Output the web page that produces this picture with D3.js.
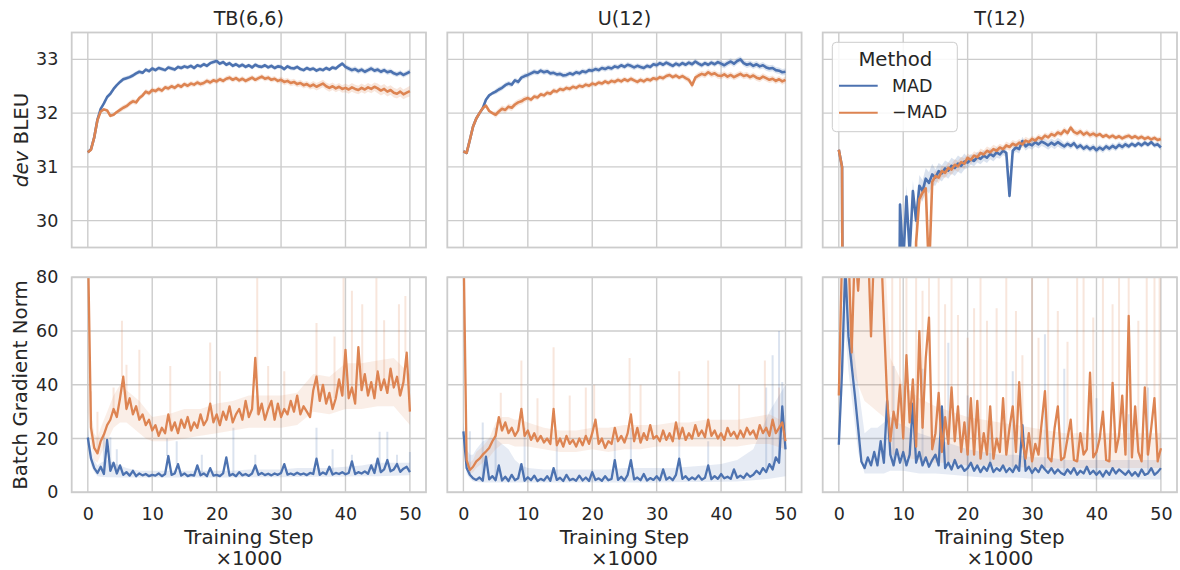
<!DOCTYPE html>
<html>
<head>
<meta charset="utf-8">
<script src="https://cdn.jsdelivr.net/npm/d3@7"></script>
<style>
body { margin: 0; background: #fff; }
text { font-family: "DejaVu Sans", sans-serif; fill: #262626; }
</style>
</head>
<body>
<script>
// training step (x1000), one value every 0.5k steps
const steps = d3.range(0, 50.001, 0.5);
const stepTicks = [0, 10, 20, 30, 40, 50];
const bleuTicks = [30, 31, 32, 33];
const gnormTicks = [0, 20, 40, 60, 80];
const titles = ['TB(6,6)', 'U(12)', 'T(12)'];

// ---- dev BLEU ----
const tbBleuMad = [31.27,31.33,31.55,31.88,32.08,32.18,32.30,32.36,32.45,32.52,
  32.58,32.63,32.65,32.67,32.70,32.74,32.77,32.75,32.81,32.78,
  32.83,32.80,32.84,32.82,32.80,32.85,32.83,32.81,32.86,32.84,
  32.87,32.85,32.88,32.84,32.89,32.87,32.91,32.88,32.93,32.95,
  32.97,32.92,32.95,32.90,32.93,32.88,32.91,32.87,32.90,32.86,
  32.89,32.85,32.90,32.87,32.86,32.89,32.85,32.88,32.84,32.87,
  32.86,32.82,32.87,32.84,32.83,32.86,32.82,32.80,32.84,32.81,
  32.83,32.79,32.82,32.80,32.84,32.81,32.85,32.83,32.88,32.92,
  32.86,32.83,32.80,32.82,32.78,32.81,32.77,32.80,32.83,32.79,
  32.81,32.77,32.80,32.76,32.78,32.74,32.72,32.75,32.71,32.74,
  32.77];
const tbBleuNeg = [31.27,31.32,31.55,31.87,32.03,32.07,32.05,31.95,31.97,32.02,
  32.06,32.10,32.13,32.18,32.22,32.20,32.28,32.33,32.40,32.37,
  32.43,32.41,32.45,32.42,32.48,32.46,32.50,32.47,32.52,32.49,
  32.54,32.51,32.55,32.53,32.57,32.54,32.56,32.60,32.57,32.61,
  32.59,32.63,32.60,32.64,32.66,32.62,32.65,32.61,32.64,32.60,
  32.63,32.66,32.62,32.65,32.68,32.64,32.66,32.62,32.64,32.60,
  32.62,32.58,32.60,32.56,32.58,32.54,32.56,32.52,32.54,32.50,
  32.53,32.49,32.52,32.55,32.50,32.47,32.50,32.46,32.49,32.45,
  32.47,32.44,32.48,32.45,32.43,32.47,32.44,32.48,32.45,32.49,
  32.46,32.42,32.45,32.40,32.43,32.38,32.36,32.40,32.35,32.38,
  32.41];
const uBleuMad = [31.29,31.26,31.50,31.75,31.90,32.00,32.09,32.25,32.33,32.37,
  32.40,32.44,32.47,32.52,32.55,32.53,32.61,32.58,32.66,32.69,
  32.71,32.74,32.77,32.75,32.79,32.76,32.78,32.74,32.75,32.72,
  32.73,32.70,32.71,32.74,32.72,32.76,32.74,32.78,32.76,32.80,
  32.79,32.82,32.80,32.84,32.82,32.85,32.83,32.87,32.85,32.89,
  32.86,32.90,32.88,32.85,32.88,32.86,32.84,32.88,32.86,32.91,
  32.89,32.93,32.90,32.94,32.91,32.88,32.92,32.89,32.93,32.90,
  32.94,32.91,32.96,32.92,32.89,32.93,32.90,32.94,32.91,32.95,
  32.92,32.89,32.93,32.96,32.92,32.97,33.00,32.93,32.90,32.92,
  32.88,32.91,32.87,32.89,32.85,32.83,32.84,32.80,32.79,32.76,
  32.77];
const uBleuNeg = [31.29,31.26,31.50,31.75,31.90,32.00,32.09,32.14,32.04,32.00,
  31.97,32.03,32.08,32.06,32.12,32.10,32.16,32.20,32.22,32.26,
  32.28,32.25,32.31,32.29,32.35,32.33,32.38,32.36,32.42,32.40,
  32.45,32.43,32.47,32.45,32.49,32.47,32.51,32.49,32.53,32.51,
  32.55,32.53,32.57,32.55,32.59,32.56,32.60,32.58,32.62,32.59,
  32.63,32.60,32.64,32.61,32.58,32.62,32.59,32.63,32.61,32.65,
  32.63,32.67,32.65,32.69,32.71,32.67,32.70,32.66,32.69,32.65,
  32.62,32.52,32.66,32.70,32.73,32.71,32.76,32.72,32.74,32.70,
  32.69,32.72,32.68,32.71,32.67,32.70,32.73,32.69,32.71,32.67,
  32.70,32.66,32.64,32.68,32.65,32.62,32.64,32.60,32.63,32.59,
  32.62];
const tBleuMad = [31.32,31.00,15,15,15,15,15,15,15,15,
  15,15,15,15,15,15,15,15,22,30.30,
  29.20,30.45,29.40,30.55,30.00,30.65,30.55,30.78,30.70,30.86,
  30.80,30.92,30.88,30.97,30.93,31.02,30.98,31.06,31.02,31.10,
  31.08,31.14,31.11,31.18,31.15,31.21,31.17,31.24,31.20,31.27,
  31.23,31.30,31.26,30.46,31.30,31.36,31.33,31.48,31.38,31.43,
  31.40,31.46,31.42,31.47,31.44,31.40,31.45,31.41,31.46,31.42,
  31.38,31.43,31.39,31.44,31.36,31.40,31.34,31.38,31.33,31.37,
  31.31,31.36,31.32,31.38,31.34,31.39,31.35,31.41,31.37,31.42,
  31.38,31.43,31.39,31.44,31.40,31.45,31.41,31.46,31.40,31.42,
  31.36];
const tBleuNeg = [31.32,31.00,15,15,15,15,15,15,15,15,
  15,15,15,15,15,15,15,15,15,15,
  15,15,15,22,29.60,30.40,30.52,30.60,29.00,30.72,
  30.83,30.80,30.92,30.89,30.98,30.95,31.04,31.01,31.09,31.06,
  31.17,31.13,31.21,31.18,31.26,31.23,31.30,31.27,31.33,31.30,
  31.36,31.33,31.40,31.37,31.43,31.40,31.45,31.42,31.49,31.46,
  31.52,31.49,31.55,31.52,31.58,31.55,31.61,31.58,31.64,31.61,
  31.68,31.63,31.73,31.65,31.62,31.66,31.60,31.64,31.59,31.62,
  31.58,31.61,31.56,31.59,31.55,31.58,31.54,31.57,31.53,31.56,
  31.58,31.54,31.57,31.53,31.56,31.52,31.55,31.51,31.54,31.50,
  31.52];
// spread of the BLEU band, one value per 5k steps
const tbBleuMadSd = [0.02,0.04,0.04,0.04,0.04,0.04,0.04,0.04,0.05,0.05,0.05];
const tbBleuNegSd = [0.03,0.05,0.05,0.05,0.05,0.05,0.06,0.07,0.08,0.09,0.10];
const uBleuMadSd = [0.03,0.05,0.05,0.05,0.05,0.05,0.05,0.05,0.06,0.06,0.06];
const uBleuNegSd = [0.03,0.06,0.05,0.05,0.05,0.05,0.05,0.06,0.06,0.06,0.06];
const tBleuMadSd = [0.02,0.10,0.20,0.15,0.10,0.08,0.08,0.06,0.06,0.05,0.05];
const tBleuNegSd = [0.02,0.10,0.12,0.10,0.08,0.07,0.06,0.06,0.05,0.05,0.05];

// ---- batch gradient norm ----
const tbGnormMad = [20.4,12.5,9.0,7.2,9.5,6.8,19.5,8.0,11.0,7.0,
  10.0,6.5,7.5,6.2,8.0,6.0,7.0,6.3,6.8,6.0,
  6.5,6.2,7.0,6.0,6.8,13.5,6.5,7.0,10.5,6.2,
  7.0,6.0,6.5,6.2,10.0,6.3,7.0,6.0,9.0,6.2,
  6.5,6.0,7.0,13.0,6.2,6.8,6.0,7.5,6.3,6.8,
  6.1,7.0,10.0,6.5,7.2,6.4,6.9,6.3,7.0,6.5,
  7.2,10.5,6.6,7.0,6.5,7.3,6.6,7.0,6.4,7.2,
  6.8,12.5,6.5,7.4,6.7,9.5,6.6,7.2,6.8,7.5,
  6.7,7.2,11.5,6.8,7.5,7.0,7.8,6.9,10.0,7.2,
  12.5,7.5,8.5,12.0,7.8,8.5,10.5,7.6,8.8,9.5,
  7.5];
const tbGnormNeg = [95,24,16.5,14.5,19,21.5,25,27,31,28,
  35,43,31,35,29,32,27,29,25,27,
  23,25,21,24,22,29,23,26,22,27,
  24,28,23,26,24,29,25,27,33,26,
  29,25,30,27,32,26,29,31,27,34,
  28,31,50,29,33,27,31,34,27,33,
  28,31,29,34,30,36,29,32,30,28,
  38,43,34,40,33,37,31,35,42,36,
  53,35,39,33,54,38,44,36,41,35,
  45,38,42,37,46,39,43,36,41,52,
  30];
const uGnormMad = [22.7,9.0,6.5,5.2,4.6,5.5,4.3,13.3,4.8,6.0,
  4.5,10.0,4.4,5.8,4.2,6.5,4.5,5.2,10.5,4.3,
  5.6,4.5,6.2,4.2,5.0,4.4,6.0,4.3,9.0,4.6,
  5.4,4.2,6.5,4.5,5.0,4.3,6.2,4.4,5.5,4.2,
  7.5,4.6,5.2,4.3,6.0,4.5,5.0,12.0,4.6,5.8,
  4.4,6.5,12.0,4.8,5.5,4.5,6.8,4.4,5.3,4.6,
  6.0,4.5,8.5,4.7,5.6,4.5,6.5,12.5,5.0,6.0,
  4.6,5.5,4.8,6.3,4.7,5.4,10.0,4.9,6.0,5.0,
  6.8,5.2,5.8,5.0,8.5,5.4,6.2,5.3,7.0,5.8,
  6.5,8.0,6.8,9.0,7.5,10.5,8.5,13.0,11.0,32.0,
  16.0];
const uGnormNeg = [95,12,8.3,9.5,11.5,12.5,14,15.2,16.5,19,
  21,28,23,26,22,24,21,23,31,21,
  23,19.5,22,19,21,18.5,20,18,31,17.5,
  20,17,21,18,19.5,17,20,17.5,21,18,
  22,27,18,20,16.5,19,18,24,19,21,
  18.5,22,29,19,24,18.5,22,19.5,25,20,
  21,19,23,19.5,22,19,26,20,24,19.5,
  22,20,25,21,23,20.5,27,21,23,20,
  22,19.5,24,21,22.5,20,23,20.5,24,21.5,
  23,20,25,22,24,21,27,22,24,26,
  19];
const tGnormMad = [17.7,45,84,58,47,36,24,11.5,9,13,
  10,15,10,19,11,34,14,10,16,11,
  15,10,14,33,11,15,10,13,9.5,12,
  14,10,32,9,11,8.5,12,9,10,8,
  9,11,8,10,7.5,9.5,8,11,7.5,9,
  8,10,7.5,9,7.5,10,8,25,8,9.5,
  7.2,9,7.5,10,8.5,7.2,9,7,8.5,7.2,
  6.5,8.5,7,9,6.5,8,7,9.5,6.8,8,
  6.5,7.8,5.9,8,6.5,9,7,8.5,7.5,6.5,
  8,6.2,7.5,6,8.5,6.5,7,9,6.5,7.5,
  9];
const tGnormNeg = [36,88,95,90,52,92,75,95,88,95,
  58,92,85,95,64,35,19,30,24,40,
  20,51,26,42,17,60,24,50,65,16,
  22,37,15,28,18,39,19,32,15,26,
  14,35,14,34,12.5,22,14,32,12.5,20,
  15,35,14,24,32,15,41,19,12.5,22,
  11.5,18,14,26,37.6,13,11.5,24,32,12,
  13,20,27,12,11.5,22,14,16,44.5,13,
  15,20,30,12,11.5,40.7,15,21,36,14,
  65.6,13,32,15,11.5,39,14,24,35,11.5,
  16.4];

// band bounds for the gradient norm, read at these steps
const bandSteps = [0,0.5,1,1.5,2,3,4,5,6,7,8,9,10,12.5,15,17.5,20,22.5,25,27.5,30,32.5,35,37.5,40,42.5,45,47.5,50];
const tbGnormMadLo = [18,10,7.5,6,5.8,5.6,5.6,5.5,5.5,5.5,5.5,5.5,5.5,5.5,5.5,5.5,5.5,5.5,5.6,5.6,5.6,5.7,5.8,5.8,5.9,6,6,6.2,6.3];
const tbGnormMadHi = [24,16,12,10,11,12,11,10,9,8.5,8,8,8,8,8,8,8,8,8.5,8.5,8.5,9,9,9,9.5,10,11,11,11];
const tbGnormNegLo = [30,18,12,11,14,19,24,26,26,24,22,20,19,19,20,21,22,23,24,24,24,25,30,29,31,31,32,32,25];
const tbGnormNegHi = [95,30,22,20,24,30,36,40,38,36,34,31,28,29,31,31,33,34,36,36,36,37,44,43,48,48,49,50,44];
const uGnormMadLo = [20,7,5,4,3.8,3.6,3.6,3.6,3.6,3.6,3.6,3.6,3.6,3.6,3.6,3.6,3.6,3.6,3.6,3.6,3.6,3.7,3.8,3.8,3.9,4,4.5,5,6];
const uGnormMadHi = [26,16,14,14,16,19,20,20,18,16,12,10,9,8.5,8.5,8.5,8.5,8.5,9,9,9,9,9.5,10,10.5,12,16,30,40];
const uGnormNegLo = [60,10,7,7.5,9,11,13,16,18,18,17,17,17,16,15,15,16,15,16,16,17,17,17,17,17,17,18,18,16];
const uGnormNegHi = [95,16,11,12,15,17,20,26,28,28,27,27,26,24,23,23,24,24,25,25,25,26,26,27,27,27,28,29,26];
const tGnormMadLo = [14,35,60,45,35,15,7,7,7,7,8,8,8,7,7,6.5,6,5.5,5.5,5.5,5,5,5,5,4.8,4.8,4.8,4.8,4.8];
const tGnormMadHi = [25,60,90,75,60,40,22,24,24,26,28,26,25,22,20,18,16,15,14,14,13,13,12,12,12,12,12,12,12];
const tGnormNegLo = [30,70,75,70,45,40,34,32,30,28,14,14,13,12,11,11,10,10,9.5,9.5,9,9,9,9,9,9,9,9,9];
const tGnormNegHi = [45,95,95,95,95,95,95,95,95,95,50,45,40,35,32,30,28,27,26,25,24,23,22,22,22,22,22,22,22];

// faint single-run peaks inside the band: [step, top]
const tbGnormMadPeaks = [[2.5,21],[3.5,20.5],[4.5,16],[12.3,20],[13.8,19],[17.7,14],[22.6,24],[26,14],[35.5,24],[38,16],[41,14],[45.3,22.5],[46.5,22.5],[48,14],[50,15]];
const tbGnormNegPeaks = [[0.5,37.6],[1.5,30],[4,39],[5.3,63.8],[6,47.5],[8,53],[12.8,47],[19,55.7],[20.5,45],[26.3,85],[28,47],[30.5,45],[35.5,63],[38.3,58],[39.7,85],[41,75],[42.6,70],[44.8,85],[46,64],[48.3,70],[49.3,73]];
const uGnormMadPeaks = [[1,22.7],[3,26],[5,24],[9.5,24],[14.5,19],[23.5,20],[26,24],[33.5,24],[38,19],[47,39],[48,51],[49,60],[49.5,41]];
const uGnormNegPeaks = [[5.8,37],[9,49],[11.5,35],[14,54],[16.5,36],[19,39],[20.3,40],[25.8,50],[27.5,40],[33.5,45],[38,49],[42.8,40],[46.8,49],[49,39]];
const tGnormMadPeaks = [[2,66],[8.5,47],[13,46],[17,55.6],[20,36],[23.5,31],[27,45],[32,58.8],[35,46],[40,35],[45,29],[48,39]];
const tGnormNegPeaks = [[8.3,85],[9.5,85],[10.5,85],[12,85],[13,75],[14,85],[15.5,85],[16.5,70],[17.5,85],[18.5,66],[20,57.5],[21,68.5],[22,85],[23,63.8],[24.5,68.5],[26,85],[27.5,67.5],[28.5,51],[30,85],[31,57.5],[32.5,85],[34,67.5],[35.5,56],[37,85],[38,85],[39.5,65],[41,85],[42.5,70],[43.5,85],[45,85],[46.5,63.8],[47.8,85],[49,85],[49.8,85]];

const blue = '#4c72b0', orange = '#dd8452';
const W = 354.3, H = 215;
const colX = [71.7, 447.3, 822.7];
const rowY = [32.5, 277.3];

const x = d3.scaleLinear().domain([-2.5, 52.5]).range([0, W]);
const yTop = d3.scaleLinear().domain([29.5, 33.5]).range([H, 0]);
const yBot = d3.scaleLinear().domain([0, 80]).range([H, 0]);

const panels = [
  {col: 0, row: 0, mad: tbBleuMad, neg: tbBleuNeg, madSd: tbBleuMadSd, negSd: tbBleuNegSd},
  {col: 1, row: 0, mad: uBleuMad, neg: uBleuNeg, madSd: uBleuMadSd, negSd: uBleuNegSd},
  {col: 2, row: 0, mad: tBleuMad, neg: tBleuNeg, madSd: tBleuMadSd, negSd: tBleuNegSd},
  {col: 0, row: 1, mad: tbGnormMad, neg: tbGnormNeg, madLo: tbGnormMadLo, madHi: tbGnormMadHi,
    negLo: tbGnormNegLo, negHi: tbGnormNegHi, madPk: tbGnormMadPeaks, negPk: tbGnormNegPeaks},
  {col: 1, row: 1, mad: uGnormMad, neg: uGnormNeg, madLo: uGnormMadLo, madHi: uGnormMadHi,
    negLo: uGnormNegLo, negHi: uGnormNegHi, madPk: uGnormMadPeaks, negPk: uGnormNegPeaks},
  {col: 2, row: 1, mad: tGnormMad, neg: tGnormNeg, madLo: tGnormMadLo, madHi: tGnormMadHi,
    negLo: tGnormNegLo, negHi: tGnormNegHi, madPk: tGnormMadPeaks, negPk: tGnormNegPeaks}
];

const svg = d3.select('body').append('svg')
    .attr('width', 1180)
    .attr('height', 570);

panels.forEach((p, k) => {
  const y = p.row === 0 ? yTop : yBot;
  const g = svg.append('g')
      .attr('transform', `translate(${colX[p.col]},${rowY[p.row]})`);

  // grid
  g.selectAll('.gx').data(stepTicks).enter().append('line')
      .attr('x1', d => x(d)).attr('x2', d => x(d))
      .attr('y1', 0).attr('y2', H)
      .attr('stroke', '#cccccc').attr('stroke-width', 1.4);
  g.selectAll('.gy').data(p.row === 0 ? bleuTicks : gnormTicks).enter().append('line')
      .attr('x1', 0).attr('x2', W)
      .attr('y1', d => y(d)).attr('y2', d => y(d))
      .attr('stroke', '#cccccc').attr('stroke-width', 1.4);

  g.append('clipPath').attr('id', 'clip' + k)
    .append('rect').attr('width', W).attr('height', H);
  const plot = g.append('g').attr('clip-path', `url(#clip${k})`);

  const line = d3.line().x((d, i) => x(steps[i])).y(d => y(d));

  [['mad', blue], ['neg', orange]].forEach(([key, color]) => {
    const vals = p[key];
    if (p.row === 0) {
      const sd = p[key + 'Sd'];
      const area = d3.area()
          .x((d, i) => x(steps[i]))
          .y0((d, i) => y(d - sd[Math.floor(i / 10)]))
          .y1((d, i) => y(d + sd[Math.floor(i / 10)]));
      plot.append('path').datum(vals)
          .attr('d', area).attr('fill', color).attr('fill-opacity', 0.2);
    } else {
      const lo = p[key + 'Lo'], hi = p[key + 'Hi'];
      const area = d3.area()
          .x((d, i) => x(bandSteps[i]))
          .y0((d, i) => y(lo[i]))
          .y1((d, i) => y(hi[i]));
      plot.append('path').datum(bandSteps)
          .attr('d', area).attr('fill', color).attr('fill-opacity', 0.14);
      plot.selectAll('.pk' + key).data(p[key + 'Pk']).enter().append('line')
          .attr('x1', d => x(d[0])).attr('x2', d => x(d[0]))
          .attr('y1', d => y(vals[Math.round(d[0] * 2)]))
          .attr('y2', d => y(d[1]))
          .attr('stroke', color).attr('stroke-opacity', 0.2).attr('stroke-width', 2);
    }
  });

  const lw = p.row === 0 ? 2.6 : 2.3;
  plot.append('path').datum(p.mad)
      .attr('d', line).attr('fill', 'none')
      .attr('stroke', blue).attr('stroke-width', lw).attr('stroke-linejoin', 'round');
  plot.append('path').datum(p.neg)
      .attr('d', line).attr('fill', 'none')
      .attr('stroke', orange).attr('stroke-width', lw).attr('stroke-linejoin', 'round');

  // frame
  g.append('rect').attr('width', W).attr('height', H)
      .attr('fill', 'none').attr('stroke', '#cccccc').attr('stroke-width', 1.8);

  if (p.col === 0) {
    g.append('g')
        .call(d3.axisLeft(y).tickValues(p.row === 0 ? bleuTicks : gnormTicks)
          .tickFormat(d3.format('d')).tickSize(0).tickPadding(13.4))
        .call(a => a.select('.domain').remove())
        .selectAll('text')
        .attr('font-size', 17.5).attr('font-family', 'DejaVu Sans').attr('fill', '#262626');
  }
  if (p.row === 1) {
    g.append('g').attr('transform', `translate(0,${H})`)
        .call(d3.axisBottom(x).tickValues(stepTicks).tickFormat(d3.format('d'))
          .tickSize(0).tickPadding(15.3))
        .call(a => a.select('.domain').remove())
        .selectAll('text')
        .attr('font-size', 17.5).attr('font-family', 'DejaVu Sans').attr('fill', '#262626');
    g.append('text').attr('x', W / 2).attr('y', 267)
        .attr('text-anchor', 'middle').attr('font-size', 19.8).text('Training Step');
    g.append('text').attr('x', W / 2).attr('y', 287.7)
        .attr('text-anchor', 'middle').attr('font-size', 19.8).text('\u00d71000');
  } else {
    g.append('text').attr('x', W / 2).attr('y', -7.5)
        .attr('text-anchor', 'middle').attr('font-size', 19.2).text(titles[p.col]);
  }
});

// y labels
const yl = svg.append('text')
    .attr('transform', 'translate(28,140) rotate(-90)')
    .attr('text-anchor', 'middle').attr('font-size', 19.8);
yl.append('tspan').attr('font-style', 'italic').text('dev');
yl.append('tspan').text(' BLEU');
svg.append('text')
    .attr('transform', 'translate(27,385) rotate(-90)')
    .attr('text-anchor', 'middle').attr('font-size', 19.8)
    .text('Batch Gradient Norm');

// legend
const legend = svg.append('g').attr('transform', 'translate(832.3,42.3)');
legend.append('rect')
    .attr('width', 125).attr('height', 89.4).attr('rx', 4)
    .attr('fill', '#fff').attr('fill-opacity', 0.85)
    .attr('stroke', '#cccccc').attr('stroke-width', 1);
legend.append('text').attr('x', 63).attr('y', 23.4)
    .attr('text-anchor', 'middle').attr('font-size', 19.7).text('Method');
const entries = [['MAD', blue], ['\u2212MAD', orange]];
entries.forEach(([name, color], i) => {
  legend.append('line')
      .attr('x1', 6.7).attr('x2', 45.4)
      .attr('y1', 43.4 + i * 27).attr('y2', 43.4 + i * 27)
      .attr('stroke', color).attr('stroke-width', 2);
  legend.append('text').attr('x', 59.7).attr('y', 50 + i * 26)
      .attr('font-size', 17.5).text(name);
});
</script>
</body>
</html>
